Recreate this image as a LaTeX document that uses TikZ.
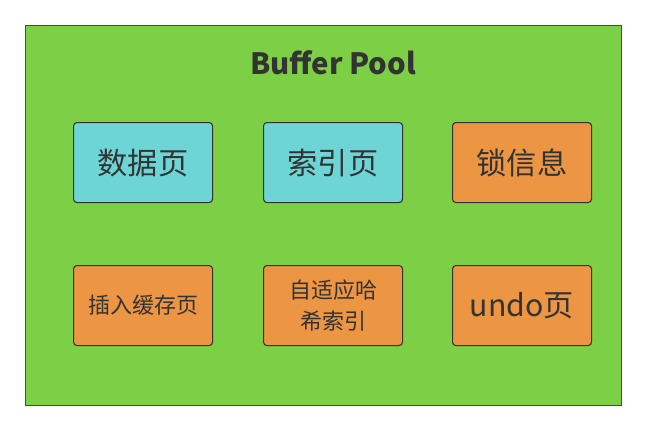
\documentclass[tikz,border=0pt]{standalone}
\usepackage{fontspec}
\setmainfont{Noto Sans CJK SC}
\definecolor{poolgreen}{HTML}{7DD046}
\definecolor{cyanbox}{HTML}{6DD5D6}
\definecolor{orangebox}{HTML}{EC9542}
\definecolor{txt}{HTML}{333333}
\definecolor{outline}{HTML}{4A4A4A}
\tikzset{
  page/.style={draw=txt, line width=0.8pt, rounded corners=2.5pt, minimum width=139*0.75pt, minimum height=80*0.75pt, inner sep=0pt, text=txt, align=center, anchor=north west},
  cyanpage/.style={page, fill=cyanbox},
  orangepage/.style={page, fill=orangebox}
}
\begin{document}
\begin{tikzpicture}[x=0.75pt,y=-0.75pt]
\useasboundingbox (0,0) rectangle (646,430);
\fill[white] (0,0) rectangle (646,430);
\node[draw=outline, fill=poolgreen, line width=1pt, minimum width=596*0.75pt, minimum height=380*0.75pt, anchor=north west, inner sep=0pt] (pool) at (25,25) {};
\node[text=txt, font=\fontsize{22}{26}\selectfont\bfseries] (title) at (333,63) {Buffer Pool};
\node[cyanpage, font=\fontsize{22.7}{26}\selectfont] (data) at (73,122) {数据页};
\node[cyanpage, font=\fontsize{22.7}{26}\selectfont] (index) at (263,122) {索引页};
\node[orangepage, font=\fontsize{22.7}{26}\selectfont] (lock) at (452,122) {锁信息};
\node[orangepage, font=\fontsize{16.5}{20}\selectfont] (insert) at (73,265) {插入缓存页};
\node[orangepage, font=\fontsize{16.5}{23}\selectfont] (hash) at (263,265) {自适应哈\\希索引};
\node[orangepage, font=\fontsize{22.7}{26}\selectfont] (undo) at (452,265) {undo页};
\end{tikzpicture}
\end{document}
